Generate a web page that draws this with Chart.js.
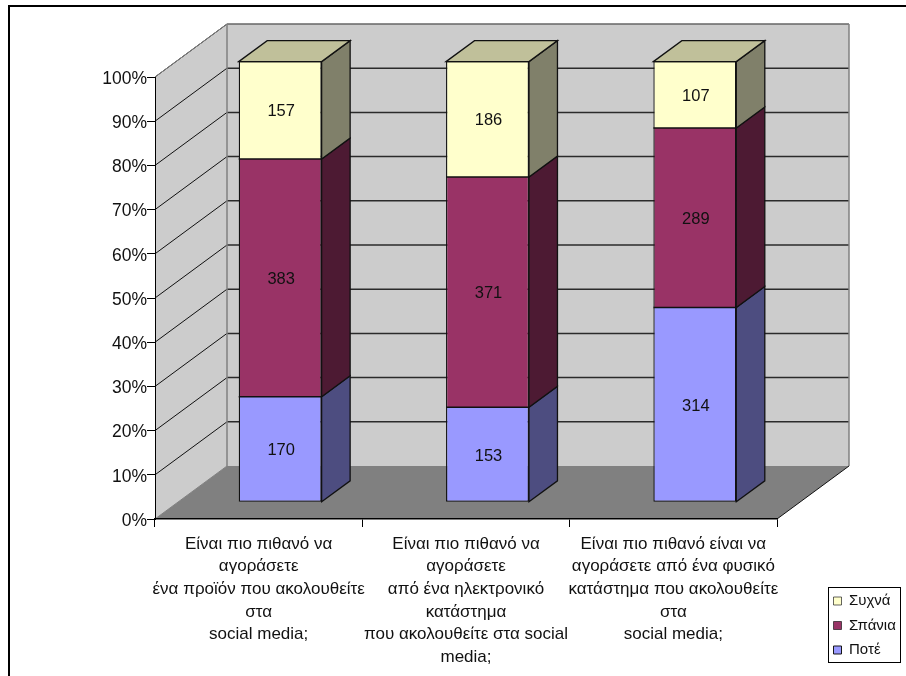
<!DOCTYPE html>
<html>
<head>
<meta charset="utf-8">
<title>Social media</title>
<style>
    html, body { margin: 0; padding: 0; background: #fff; overflow: hidden; }
    #chart-wrap { width: 906px; height: 676px; }
</style>
<script src="https://cdn.jsdelivr.net/npm/chart.js@4/dist/chart.umd.min.js"></script>
</head>
<body>
<div id="chart-wrap"><canvas id="chart-1"></canvas></div>
<script>
var categories = [
    ['Είναι πιο πιθανό να', 'αγοράσετε', 'ένα προϊόν που ακολουθείτε', 'στα', 'social media;'],
    ['Είναι πιο πιθανό να', 'αγοράσετε', 'από ένα ηλεκτρονικό', 'κατάστημα', 'που ακολουθείτε στα social', 'media;'],
    ['Είναι πιο πιθανό είναι να', 'αγοράσετε από ένα φυσικό', 'κατάστημα που ακολουθείτε', 'στα', 'social media;']
];
var seriesNames = ['Ποτέ', 'Σπάνια', 'Συχνά'];
var pote = [170, 153, 314];
var spania = [383, 371, 289];
var sychna = [157, 186, 107];
var counts = [pote, spania, sychna];

// front, side and top colour of each series
var frontColors = ['#9999FF', '#993366', '#FFFFCC'];
var sideColors = ['#4D4D80', '#4D1A33', '#80806A'];
var topColors = ['#7373BF', '#73264D', '#C0C09A'];

// oblique projection: how far the back wall and the bars sit from the front plane
var wallDx = 72, wallDy = -53;
var barDx = 21.5, barDy = -16.7, barScaleY = 0.997;
var depthDx = 28.5, depthDy = -21;

function percentOf(values) {
    return values.map(function (v, i) {
        return v / (pote[i] + spania[i] + sychna[i]) * 100;
    });
}

function polygon(ctx, pts, fill, stroke, lineWidth) {
    ctx.beginPath();
    ctx.moveTo(pts[0][0], pts[0][1]);
    for (var i = 1; i < pts.length; i++) ctx.lineTo(pts[i][0], pts[i][1]);
    ctx.closePath();
    if (fill) { ctx.fillStyle = fill; ctx.fill(); }
    if (stroke) { ctx.strokeStyle = stroke; ctx.lineWidth = lineWidth || 1; ctx.stroke(); }
}

function line(ctx, x1, y1, x2, y2, color, width) {
    ctx.beginPath();
    ctx.moveTo(x1, y1);
    ctx.lineTo(x2, y2);
    ctx.strokeStyle = color;
    ctx.lineWidth = width;
    ctx.stroke();
}

// outer frame, walls, floor and wall gridlines
var wallsPlugin = {
    id: 'walls',
    beforeDraw: function (chart) {
        var ctx = chart.ctx, a = chart.chartArea, y = chart.scales.y;
        ctx.save();
        ctx.fillStyle = '#000';
        ctx.fillRect(8, 5, 2, chart.height - 5);
        ctx.fillRect(8, 5, chart.width - 8, 2);

        var l = a.left, r = a.right, t = a.top, b = a.bottom;
        polygon(ctx, [[l, b], [l + wallDx, b + wallDy], [l + wallDx, t + wallDy], [l, t]], '#CCCCCC');
        polygon(ctx, [[l + wallDx, t + wallDy], [r + wallDx, t + wallDy], [r + wallDx, b + wallDy], [l + wallDx, b + wallDy]], '#CCCCCC');
        polygon(ctx, [[l, b], [r, b], [r + wallDx, b + wallDy], [l + wallDx, b + wallDy]], '#808080');

        y.ticks.forEach(function (tick) {
            if (tick.value === 0) return;
            var py = y.getPixelForValue(tick.value);
            line(ctx, l, py, l + wallDx, py + wallDy, '#111', 1);
            if (tick.value < 100) line(ctx, l + wallDx, py + wallDy, r + wallDx, py + wallDy, '#2a2a2a', 1.5);
        });

        line(ctx, l + wallDx, t + wallDy, r + wallDx, t + wallDy, '#666', 1.5);
        line(ctx, l, t, l + wallDx, t + wallDy, '#808080', 1);
        line(ctx, l + wallDx, t + wallDy, l + wallDx, b + wallDy, '#808080', 1.5);
        line(ctx, r + wallDx, t + wallDy, r + wallDx, b + wallDy, '#808080', 1.5);
        line(ctx, l, b, l + wallDx, b + wallDy, '#808080', 1);
        line(ctx, r, b, r + wallDx, b + wallDy, '#111', 1);
        ctx.restore();
    },
    // the bars stand a little behind the axis plane
    beforeDatasetsDraw: function (chart) {
        var ctx = chart.ctx, b = chart.chartArea.bottom;
        ctx.save();
        ctx.translate(barDx, barDy + b * (1 - barScaleY));
        ctx.scale(1, barScaleY);
    },
    afterDatasetsDraw: function (chart) {
        var ctx = chart.ctx;

        // side and top faces of each stack, in the same shifted space as the bars
        var ox = depthDx, oy = depthDy / barScaleY;
        chart.data.datasets.forEach(function (ds, d) {
            chart.getDatasetMeta(d).data.forEach(function (bar) {
                var right = bar.x + bar.width / 2, left = bar.x - bar.width / 2;
                line(ctx, left, bar.y, right, bar.y, '#111', 1.5);
                polygon(ctx, [[right, bar.base], [right + ox, bar.base + oy], [right + ox, bar.y + oy], [right, bar.y]],
                    sideColors[d], '#111', 1.3);
                if (d === chart.data.datasets.length - 1) {
                    polygon(ctx, [[left, bar.y], [left + ox, bar.y + oy], [right + ox, bar.y + oy], [right, bar.y]],
                        topColors[d], '#111', 1.3);
                }
            });
        });

        // counts in the middle of each segment
        ctx.fillStyle = '#111';
        ctx.font = '16.5px "Liberation Sans", Arial, sans-serif';
        ctx.textAlign = 'center';
        ctx.textBaseline = 'middle';
        chart.data.datasets.forEach(function (ds, d) {
            chart.getDatasetMeta(d).data.forEach(function (bar, i) {
                ctx.fillText(String(counts[d][i]), bar.x + 1, (bar.y + bar.base) / 2 + 1.5);
            });
        });
        ctx.restore();
    },
    // legend sits in the lower right corner, outside the plot; bottom is left open
    // so its three rows stay in one column
    afterLayout: function (chart) {
        var lg = chart.legend;
        lg.left = 824;
        lg.right = 900.5;
        lg.top = 584;
        lg.bottom = 700;
    },
    afterDraw: function (chart) {
        var ctx = chart.ctx;
        ctx.save();
        ctx.strokeStyle = '#000';
        ctx.lineWidth = 1;
        ctx.strokeRect(828.5, 587.5, 72, 75);
        ctx.restore();
    }
};

var ctx = document.getElementById('chart-1');
var myChart = new Chart(ctx, {
    type: 'bar',
    data: {
        labels: categories,
        datasets: seriesNames.map(function (name, d) {
            return {
                label: name,
                data: percentOf(counts[d]),
                backgroundColor: frontColors[d],
                borderColor: '#111',
                // top edges are stroked with the side faces so adjoining segments share one line
                borderWidth: { top: 0, left: 1.3, right: 1.3, bottom: d === 0 ? 1.3 : 0 },
                borderSkipped: false,
                barPercentage: 0.4,
                categoryPercentage: 1
            };
        })
    },
    plugins: [wallsPlugin],
    options: {
        responsive: true,
        maintainAspectRatio: false,
        animation: false,
        layout: { padding: { left: 10, top: 77, right: 129, bottom: 0 } },
        font: { family: '"Liberation Sans", Arial, sans-serif' },
        scales: {
            x: {
                stacked: true,
                grid: { drawOnChartArea: false, color: '#000', tickLength: 8, lineWidth: 1 },
                border: { color: '#000', width: 1.5 },
                ticks: {
                    autoSkip: false,
                    maxRotation: 0,
                    minRotation: 0,
                    padding: 5.5,
                    color: '#111',
                    font: { family: '"Liberation Sans", Arial, sans-serif', size: 17, lineHeight: '22.7px' }
                },
                afterFit: function (scale) { scale.height = 157; }
            },
            y: {
                stacked: true,
                min: 0,
                max: 100,
                grid: { drawOnChartArea: false, color: '#000', tickLength: 8, lineWidth: 1 },
                border: { color: '#000', width: 1 },
                ticks: {
                    stepSize: 10,
                    padding: 0,
                    color: '#111',
                    font: { family: '"Liberation Sans", Arial, sans-serif', size: 17.5, lineHeight: '4px' },
                    // empty first line nudges the label down by half a line
                    callback: function (v) { return ['', v + '%']; }
                },
                afterFit: function (scale) { scale.width = 145; }
            }
        },
        plugins: {
            title: { display: false },
            tooltip: { enabled: false },
            legend: {
                display: true,
                position: 'chartArea',
                align: 'start',
                reverse: true,
                labels: {
                    boxWidth: 8,
                    boxHeight: 8,
                    padding: 9.5,
                    color: '#111',
                    font: { family: '"Liberation Sans", Arial, sans-serif', size: 15 }
                }
            }
        }
    }
});
</script>
</body>
</html>
